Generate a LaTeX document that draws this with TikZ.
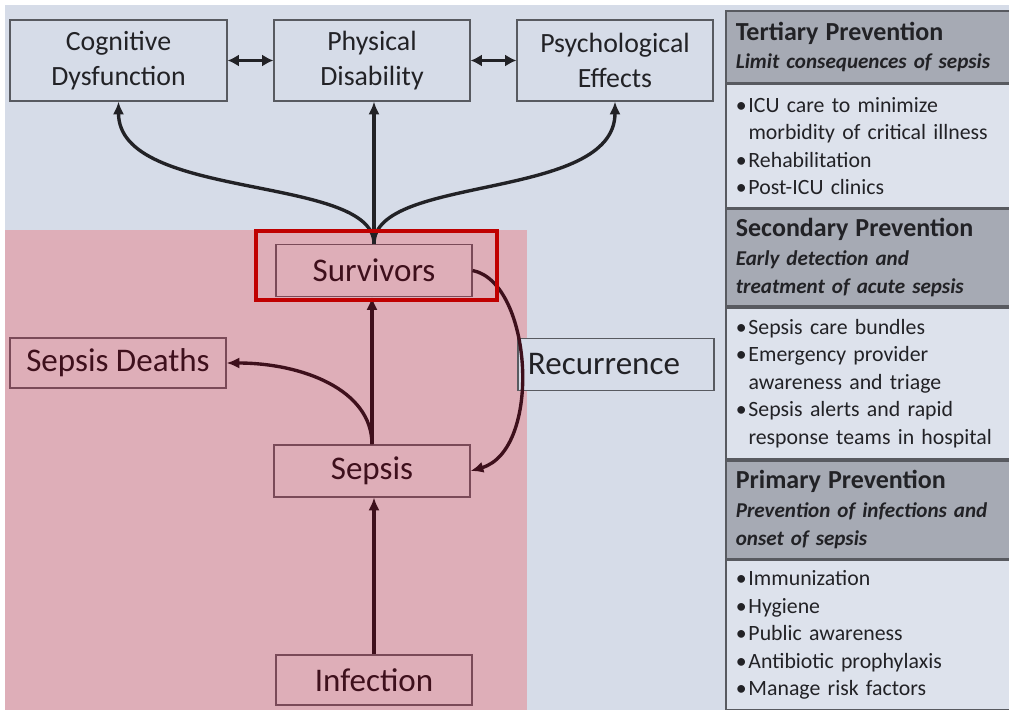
\documentclass[tikz,border=0pt]{standalone}
\usepackage{fontspec}
\setmainfont{Carlito}
\usetikzlibrary{arrows.meta,positioning}

\definecolor{bgblue}{RGB}{214,220,232}
\definecolor{cellblue}{RGB}{221,226,236}
\definecolor{hdrgray}{RGB}{166,170,180}
\definecolor{rose}{RGB}{222,174,184}
\definecolor{maroon}{RGB}{62,16,28}
\definecolor{roseline}{RGB}{122,74,88}
\definecolor{boxgray}{RGB}{88,90,96}
\definecolor{inkgray}{RGB}{34,34,38}
\definecolor{hlred}{RGB}{192,0,0}

\newcommand{\bul}{\makebox[9pt][l]{\textbullet}}
\newcommand{\cont}{\hspace*{9pt}}

\begin{document}
\begin{tikzpicture}[x=0.025cm,y=-0.025cm,
    outcome/.style={draw=boxgray,line width=0.8pt,minimum width=4.9cm,minimum height=2.025cm,
        align=center,text=inkgray,font=\fontsize{19.8}{24.5}\selectfont},
    stage/.style={draw=roseline,line width=0.8pt,minimum width=4.9cm,minimum height=1.3cm,
        text=maroon,font=\fontsize{23.5}{28}\selectfont},
    hdr/.style={draw=boxgray,line width=1.2pt,fill=hdrgray,anchor=north west,
        minimum width=7.2cm,text width=6.7cm,inner xsep=0.2cm,align=left,text=inkgray,
        font=\fontsize{15}{20.3}\selectfont},
    cell/.style={hdr,fill=cellblue,font=\fontsize{15.5}{19.6}\selectfont},
    upflow/.style={-{Latex[length=3.2mm,width=2.8mm]},line width=2.4pt,draw=inkgray},
    rflow/.style={upflow,draw=maroon},
    linked/.style={{Latex[length=2.8mm,width=3mm]}-{Latex[length=2.8mm,width=3mm]},line width=2.4pt,draw=inkgray}]
    \useasboundingbox (0,0) rectangle (1009,710);

    %%% background panels
    \fill[white] (0,0) rectangle (1009,710);
    \fill[bgblue] (5,5) rectangle (1009,710);
    \fill[rose] (5,230) rectangle (527,710);

    %%% outcomes after sepsis
    \node[outcome,minimum width=5.425cm] (cog) at (118.5,60.5) {Cognitive\\Dysfunction};
    \node[outcome] (phys) at (372,60.5) {Physical\\Disability};
    \node[outcome] (psych) at (615,60.5) {Psychological\\Effects};
    \draw[linked] (cog) -- (phys);
    \draw[linked] (phys) -- (psych);

    %%% course of illness
    \node[stage] (surv) at (374,270.5) {Survivors};
    \node[stage,minimum width=5.4cm,minimum height=1.25cm] (deaths) at (118,363) {Sepsis Deaths};
    \node[stage,draw=boxgray,text=inkgray,text width=4.4cm,align=left,inner xsep=0.25cm,
        fill=bgblue] (recur) at (616,364.5) {Recurrence};
    \node[stage] (sepsis) at (372,471) {Sepsis};
    \node[stage,minimum height=1.25cm] (infect) at (374,680) {Infection};

    \draw[upflow] (surv.north) .. controls +(0,-70) and +(0,100) .. (cog.south);
    \draw[upflow] (surv.north) -- (surv.north|-phys.south);
    \draw[upflow] (surv.north) .. controls +(0,-70) and +(0,100) .. (psych.south);

    \draw[rflow] (infect.north) -- (infect.north|-sepsis.south);
    \draw[rflow] (sepsis.north) -- (sepsis.north|-surv.south);
    \draw[rflow] (sepsis.north) .. controls +(0,-55) and +(75,0) .. (deaths.east);
    \draw[rflow] (surv.east) .. controls +(60,12) and +(72,-21) .. (sepsis.east);

    \node[draw=hlred,line width=2.8pt,minimum width=6.025cm,minimum height=1.725cm] (survhl) at (376.5,265.5) {};

    %%% prevention levels
    \node[hdr,minimum height=1.8cm] (tert) at (725,10)
        {{\fontsize{18.5}{20.3}\selectfont\bfseries Tertiary Prevention}\\
         {\bfseries\itshape Limit consequences of sepsis}};
    \node[cell,minimum height=3.075cm] (tertlist) at (tert.south west)
        {\bul ICU care to minimize\\\cont morbidity of critical illness\\\bul Rehabilitation\\\bul Post-ICU clinics};
    \node[hdr,minimum height=2.425cm] (sec) at (tertlist.south west)
        {{\fontsize{18.5}{20.3}\selectfont\bfseries Secondary Prevention}\\
         {\bfseries\itshape Early detection and}\\{\bfseries\itshape treatment of acute sepsis}};
    \node[cell,minimum height=3.775cm] (seclist) at (sec.south west)
        {\bul Sepsis care bundles\\\bul Emergency provider\\\cont awareness and triage\\\bul Sepsis alerts and rapid\\\cont response teams in hospital};
    \node[hdr,minimum height=2.45cm] (prim) at (seclist.south west)
        {{\fontsize{18.5}{20.3}\selectfont\bfseries Primary Prevention}\\
         {\bfseries\itshape Prevention of infections and}\\{\bfseries\itshape onset of sepsis}};
    \node[cell,minimum height=3.725cm] (primlist) at (prim.south west)
        {\bul Immunization\\\bul Hygiene\\\bul Public awareness\\\bul Antibiotic prophylaxis\\\bul Manage risk factors};
\end{tikzpicture}
\end{document}
